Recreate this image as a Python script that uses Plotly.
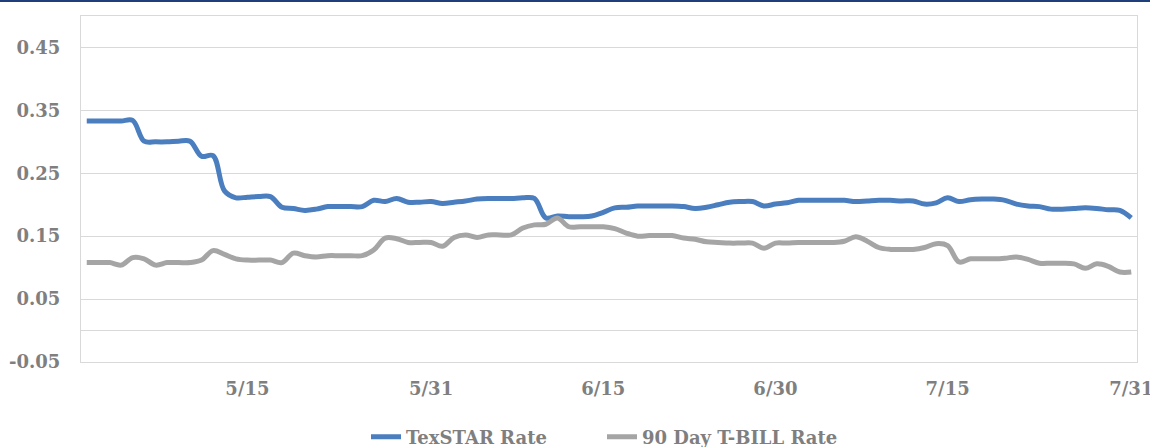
import pandas as pd
import plotly.graph_objects as go

dates = pd.date_range("2020-05-01", "2020-07-31", freq="D")

texstar_rate = [
    0.333, 0.333, 0.333, 0.333, 0.334, 0.301, 0.300, 0.300, 0.301, 0.301,
    0.277, 0.278, 0.222, 0.211, 0.212, 0.213, 0.213, 0.196, 0.194, 0.191,
    0.193, 0.197, 0.197, 0.197, 0.197, 0.207, 0.205, 0.210, 0.204, 0.204,
    0.205, 0.202, 0.204, 0.206, 0.209, 0.210, 0.210, 0.210, 0.211, 0.210,
    0.179, 0.182, 0.181, 0.181, 0.182, 0.188, 0.195, 0.196, 0.198, 0.198,
    0.198, 0.198, 0.197, 0.194, 0.196, 0.200, 0.204, 0.205, 0.205, 0.198,
    0.201, 0.203, 0.207, 0.207, 0.207, 0.207, 0.207, 0.205, 0.206, 0.207,
    0.207, 0.206, 0.206, 0.201, 0.203, 0.211, 0.205, 0.208, 0.209, 0.209,
    0.207, 0.201, 0.198, 0.197, 0.193, 0.193, 0.194, 0.195, 0.194, 0.192,
    0.191, 0.179,
]

tbill_rate = [
    0.108, 0.108, 0.108, 0.104, 0.116, 0.114, 0.104, 0.108, 0.108, 0.108,
    0.112, 0.127, 0.121, 0.114, 0.112, 0.112, 0.112, 0.108, 0.123, 0.119,
    0.117, 0.119, 0.119, 0.119, 0.119, 0.128, 0.147, 0.146, 0.140, 0.140,
    0.140, 0.134, 0.148, 0.152, 0.148, 0.152, 0.152, 0.152, 0.163, 0.168,
    0.169, 0.179, 0.165, 0.165, 0.165, 0.165, 0.162, 0.155, 0.150, 0.151,
    0.151, 0.151, 0.147, 0.145, 0.141, 0.140, 0.139, 0.139, 0.139, 0.131,
    0.139, 0.139, 0.140, 0.140, 0.140, 0.140, 0.142, 0.149, 0.142, 0.132,
    0.129, 0.129, 0.129, 0.132, 0.138, 0.135, 0.109, 0.114, 0.114, 0.114,
    0.115, 0.117, 0.113, 0.107, 0.107, 0.107, 0.106, 0.099, 0.106, 0.102,
    0.093, 0.093,
]

x_tick_dates = ["2020-05-15", "2020-05-31", "2020-06-15", "2020-06-30", "2020-07-15", "2020-07-31"]
x_tick_labels = ["5/15", "5/31", "6/15", "6/30", "7/15", "7/31"]
y_tick_vals = [-0.05, 0.05, 0.15, 0.25, 0.35, 0.45]
y_tick_labels = ["-0.05", "0.05", "0.15", "0.25", "0.35", "0.45"]

FONT = "DejaVu Serif"
TXT = "#7F7F7F"
GRID = "#D9D9D9"

fig = go.Figure()
fig.add_trace(go.Scatter(
    x=dates, y=texstar_rate, name="<b>TexSTAR Rate</b>", mode="lines",
    line=dict(color="#4A7EBF", width=5, shape="spline"),
))
fig.add_trace(go.Scatter(
    x=dates, y=tbill_rate, name="<b>90 Day T-BILL Rate</b>", mode="lines",
    line=dict(color="#A5A5A5", width=5, shape="spline"),
))

L, R, T, B = 81, 13, 16, 85
W, H = 1150, 447
pw = W - L - R
ph = H - T - B

fig.update_layout(
    width=W, height=H,
    margin=dict(l=L, r=R, t=T, b=B, pad=0, autoexpand=False),
    paper_bgcolor="white", plot_bgcolor="white",
    font=dict(family=FONT, size=18, color=TXT),
    showlegend=True,
    legend=dict(
        orientation="h", xref="container", yref="container",
        x=602 / W, xanchor="center", y=(H - 437) / H, yanchor="middle",
        font=dict(family=FONT, size=18, color=TXT),
        entrywidth=191, entrywidthmode="pixels", traceorder="normal",
    ),
    xaxis=dict(
        range=["2020-04-30 12:00", "2020-07-31 12:00"],
        tickvals=x_tick_dates,
        ticktext=["<b>%s</b>" % t for t in x_tick_labels],
        showgrid=False, zeroline=False,
        showline=True, linecolor=GRID, linewidth=1, mirror=True,
        ticks="", ticklabelstandoff=10, ticklabeloverflow="allow",
        automargin=False,
        tickfont=dict(family=FONT, size=18, color=TXT),
    ),
    yaxis=dict(
        range=[-0.05, 0.5],
        tickvals=y_tick_vals,
        ticktext=["<b>%s</b>" % t for t in y_tick_labels],
        showgrid=True, gridcolor=GRID, gridwidth=1,
        zeroline=True, zerolinecolor=GRID, zerolinewidth=1,
        showline=True, linecolor=GRID, linewidth=1, mirror=True,
        ticks="", ticklabelstandoff=16, automargin=False,
        tickfont=dict(family=FONT, size=18, color=TXT),
    ),
    shapes=[dict(
        type="line", xref="paper", yref="paper",
        x0=-L / pw, x1=1 + R / pw, y0=1 + (T - 1) / ph, y1=1 + (T - 1) / ph,
        line=dict(color="#1F3F7A", width=2),
    )],
)

fig.write_html(
    "out.html",
    config={"displayModeBar": False},
    post_script="document.body.style.margin='0px';document.body.style.overflow='hidden';",
)
